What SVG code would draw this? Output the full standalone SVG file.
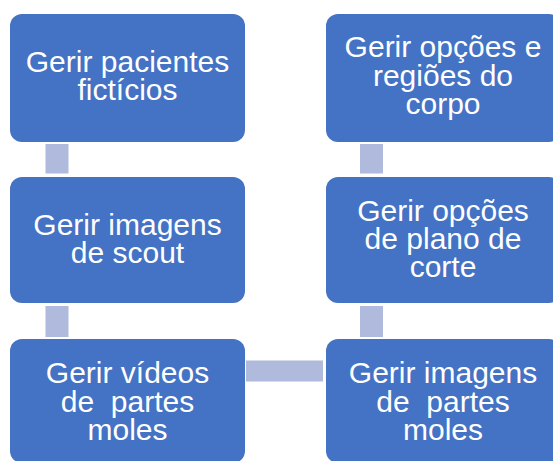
<svg xmlns="http://www.w3.org/2000/svg" width="553" height="461" viewBox="0 0 553 461">
<style>
.box{fill:#4472C4;}
.con{fill:#AFBADC;}
.t{font-family:"Liberation Sans",Arial,sans-serif;font-size:30px;fill:#FFFFFF;text-anchor:middle;}
</style>
<rect x="0" y="0" width="553" height="461" fill="#FFFFFF"/>
<g id="connectors">
<rect class="con" x="45.5" y="144" width="23" height="29.5"/>
<rect class="con" x="45.5" y="306" width="23" height="31"/>
<rect class="con" x="360" y="144" width="23" height="29.5"/>
<rect class="con" x="360" y="306" width="23" height="31"/>
<rect class="con" x="246" y="360.5" width="77" height="21"/>
</g>
<g id="n1">
<rect class="box" x="10" y="14" width="235" height="128" rx="12"/>
<text class="t" x="127.5" y="72">Gerir pacientes</text>
<text class="t" x="127.5" y="100">fictícios</text>
</g>
<g id="n2">
<rect class="box" x="10" y="177" width="235" height="126" rx="12"/>
<text class="t" x="127.5" y="235">Gerir imagens</text>
<text class="t" x="127.5" y="263">de scout</text>
</g>
<g id="n3">
<rect class="box" x="10" y="339" width="235" height="124" rx="12"/>
<text class="t" x="127.5" y="383">Gerir vídeos</text>
<text class="t" x="127.5" y="411.5" xml:space="preserve">de  partes</text>
<text class="t" x="127.5" y="440">moles</text>
</g>
<g id="n4">
<rect class="box" x="326" y="14" width="235" height="128" rx="12"/>
<text class="t" x="443" y="57">Gerir opções e</text>
<text class="t" x="443" y="85.5">regiões do</text>
<text class="t" x="443" y="114">corpo</text>
</g>
<g id="n5">
<rect class="box" x="326" y="177" width="235" height="126" rx="12"/>
<text class="t" x="443" y="221">Gerir opções</text>
<text class="t" x="443" y="249">de plano de</text>
<text class="t" x="443" y="277">corte</text>
</g>
<g id="n6">
<rect class="box" x="326" y="339" width="235" height="124" rx="12"/>
<text class="t" x="443" y="383">Gerir imagens</text>
<text class="t" x="443" y="411.5" xml:space="preserve">de  partes</text>
<text class="t" x="443" y="440">moles</text>
</g>
</svg>
